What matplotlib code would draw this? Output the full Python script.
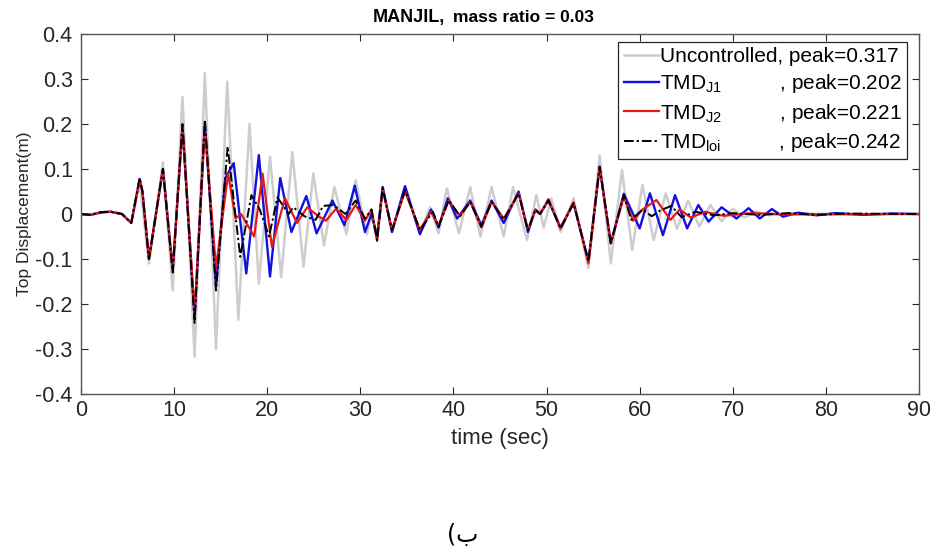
import matplotlib
matplotlib.use('Agg')
import matplotlib.pyplot as plt
from matplotlib import font_manager

# time (s) / top displacement (m)
t_unc = [0, 1.0, 2.2, 3.2, 4.4, 5.4, 6.3, 7.3, 8.8, 9.85, 10.9, 12.2, 13.3, 14.5, 15.7,
         16.9, 18.1, 19.1, 20.3, 21.5, 22.7, 23.9, 24.95, 26.1, 27.2, 28.5, 29.5, 30.7,
         31.2, 31.8, 32.4, 33.4, 34.8, 36.4, 37.5, 38.4, 39.3, 40.6, 41.8, 42.9, 44.1,
         45.4, 46.4, 47.9, 48.9, 49.7, 50.5, 51.5, 52.9, 54.5, 55.7, 56.9, 58.1, 59.2,
         60.3, 61.5, 62.8, 64.0, 65.2, 66.4, 67.6, 68.8, 70.0, 71.2, 72.5, 74.0, 76.0,
         80.0, 90.0]
d_unc = [0, -0.002, 0.004, 0.005, 0.0, -0.02, 0.07, -0.11, 0.115, -0.17, 0.26, -0.317,
         0.313, -0.30, 0.294, -0.235, 0.20, -0.155, 0.127, -0.14, 0.138, -0.117, 0.09,
         -0.07, 0.06, -0.045, 0.075, -0.045, 0.0, -0.055, 0.06, -0.04, 0.06, -0.042,
         0.015, -0.043, 0.057, -0.043, 0.06, -0.05, 0.06, -0.05, 0.06, -0.058, 0.042,
         -0.03, 0.035, -0.04, 0.035, -0.12, 0.13, -0.11, 0.098, -0.08, 0.065, -0.058,
         0.046, -0.033, 0.03, -0.028, 0.02, -0.016, 0.012, -0.008, 0.005, -0.003, 0.002,
         0.0, 0.0]

t_j1 = [0, 1.0, 2.2, 3.2, 4.4, 5.4, 6.3, 6.6, 7.3, 8.8, 9.85, 10.9, 12.2, 13.3, 14.5,
        15.5, 16.4, 17.75, 19.1, 20.3, 21.4, 22.6, 24.2, 25.3, 27.0, 28.3, 29.4, 30.5,
        31.2, 31.8, 32.4, 33.4, 34.8, 36.4, 37.6, 38.4, 39.4, 40.4, 41.8, 43.0, 44.1,
        45.4, 47.0, 48.0, 48.8, 49.3, 50.2, 51.5, 52.9, 54.5, 55.7, 56.9, 58.3, 60.0,
        61.1, 62.5, 63.8, 65.1, 66.3, 67.4, 68.8, 70.4, 71.7, 72.9, 74.2, 75.4, 77.0,
        79.0, 81.0, 84.0, 87.0, 90.0]
d_j1 = [0, -0.002, 0.004, 0.005, 0.0, -0.02, 0.078, 0.05, -0.1, 0.1, -0.125, 0.195,
        -0.23, 0.202, -0.16, 0.08, 0.113, -0.132, 0.131, -0.139, 0.08, -0.04, 0.04,
        -0.043, 0.03, -0.025, 0.063, -0.04, 0.0, -0.05, 0.06, -0.04, 0.062, -0.045,
        0.01, -0.03, 0.035, -0.01, 0.03, -0.025, 0.03, -0.02, 0.05, -0.04, 0.01, 0.0,
        0.03, -0.03, 0.024, -0.105, 0.105, -0.065, 0.045, -0.032, 0.046, -0.047, 0.042,
        -0.032, 0.02, -0.017, 0.015, -0.01, 0.013, -0.01, 0.011, -0.006, 0.003, -0.003,
        0.002, -0.002, 0.001, 0.0]

t_j2 = [0, 1.0, 2.2, 3.2, 4.4, 5.4, 6.3, 6.6, 7.3, 8.8, 9.85, 10.9, 12.2, 13.3, 14.5,
        15.8, 16.6, 17.2, 18.6, 19.5, 20.5, 21.9, 23.2, 24.3, 25.5, 26.3, 27.4, 28.5,
        29.5, 30.5, 31.2, 31.8, 32.4, 33.4, 34.8, 36.4, 37.6, 38.4, 39.5, 40.7, 41.8,
        43.0, 44.1, 45.4, 47.0, 48.0, 48.8, 49.3, 50.2, 51.5, 52.9, 54.5, 55.7, 56.9,
        58.3, 59.3, 60.3, 61.8, 63.3, 64.3, 65.5, 67.0, 69.0, 72.0, 76.0, 90.0]
d_j2 = [0, -0.002, 0.004, 0.005, 0.0, -0.02, 0.075, 0.05, -0.1, 0.1, -0.125, 0.195,
        -0.221, 0.19, -0.12, 0.09, -0.01, 0.0, -0.05, 0.09, -0.073, 0.035, -0.02, 0.015,
        -0.005, -0.015, 0.012, -0.013, 0.02, -0.015, 0.01, -0.06, 0.055, -0.035, 0.05,
        -0.035, 0.005, -0.025, 0.03, -0.005, 0.027, -0.03, 0.027, -0.01, 0.045, -0.035,
        0.008, 0.0, 0.033, -0.033, 0.026, -0.11, 0.105, -0.065, 0.038, -0.015, 0.01,
        0.031, -0.013, 0.01, -0.008, 0.005, -0.004, 0.002, -0.001, 0.0]

t_loi = [0, 1.0, 2.2, 3.2, 4.4, 5.4, 6.3, 6.6, 7.3, 8.8, 9.85, 10.9, 12.2, 13.3, 14.5,
         15.75, 17.1, 18.3, 19.2, 20.2, 21.1, 22.3, 22.8, 24.0, 25.2, 26.0, 27.1, 28.4,
         29.5, 30.5, 31.2, 31.8, 32.4, 33.4, 34.8, 36.4, 37.8, 38.4, 39.5, 40.7, 41.8,
         43.0, 44.1, 45.4, 47.0, 48.0, 48.8, 49.3, 50.2, 51.5, 52.9, 54.5, 55.7, 56.9,
         58.3, 59.1, 60.3, 61.3, 62.2, 63.4, 64.5, 66.0, 68.0, 70.0, 73.0, 76.0, 79.0,
         82.0, 90.0]
d_loi = [0, -0.002, 0.004, 0.005, 0.0, -0.02, 0.08, 0.05, -0.1, 0.1, -0.13, 0.2, -0.242,
         0.21, -0.17, 0.15, -0.095, 0.042, 0.01, -0.05, 0.037, 0.0, 0.015, -0.005,
         -0.013, 0.018, 0.02, 0.0, 0.03, -0.01, 0.01, -0.058, 0.057, -0.036, 0.053,
         -0.036, 0.005, -0.028, 0.031, -0.005, 0.027, -0.028, 0.027, -0.012, 0.046,
         -0.036, 0.01, 0.0, 0.031, -0.032, 0.024, -0.105, 0.105, -0.065, 0.042, -0.013,
         0.01, -0.005, 0.008, 0.018, -0.007, 0.005, -0.003, 0.002, -0.002, 0.002, -0.002,
         0.001, 0.0]

labels = ['Uncontrolled, peak=0.317',
          r'TMD$_{\mathrm{J1}}$          , peak=0.202',
          r'TMD$_{\mathrm{J2}}$          , peak=0.221',
          r'TMD$_{\mathrm{loi}}$          , peak=0.242']

xticks = [0, 10, 20, 30, 40, 50, 60, 70, 80, 90]
yticks = [-0.4, -0.3, -0.2, -0.1, 0, 0.1, 0.2, 0.3, 0.4]
ytick_labels = ['-0.4', '-0.3', '-0.2', '-0.1', '0', '0.1', '0.2', '0.3', '0.4']

names = {f.name for f in font_manager.fontManager.ttflist}
base_font = 'Liberation Sans' if 'Liberation Sans' in names else 'DejaVu Sans'
plt.rcParams['font.family'] = [base_font, 'DejaVu Sans']
plt.rcParams['mathtext.fontset'] = 'custom'
plt.rcParams['mathtext.rm'] = base_font

fig = plt.figure(figsize=(9.33, 5.52), dpi=100)
ax = fig.add_axes([0.0868, 0.2862, 0.8982, 0.6522])

ax.plot(t_unc, d_unc, color='#cdcdcd', lw=1.8, label=labels[0])
ax.plot(t_j1, d_j1, color='#1010e0', lw=1.7, label=labels[1])
ax.plot(t_j2, d_j2, color='#e81818', lw=1.6, label=labels[2])
ax.plot(t_loi, d_loi, color='black', lw=1.4, ls=(0, (5, 1.5, 1.2, 1.5)), label=labels[3])

ax.set_xlim(0, 90)
ax.set_ylim(-0.4, 0.4)
ax.set_xticks(xticks)
ax.set_yticks(yticks)
ax.set_yticklabels(ytick_labels)
ax.tick_params(direction='in', top=True, right=True, length=5, width=0.8,
               colors='#262626', labelsize=15.5, labelcolor='#262626')
ax.tick_params(axis='y', pad=6)
ax.tick_params(axis='x', pad=4)
for s in ax.spines.values():
    s.set_color('#555555')
    s.set_linewidth(1.0)

ax.set_xlabel('time (sec)', fontsize=16, color='#262626', labelpad=5)
ax.set_ylabel('Top Displacement(m)', fontsize=12.5, color='#262626', labelpad=2)

fig.text(445 / 933, 1 - 22 / 552, 'MANJIL,', ha='right', va='baseline',
         fontsize=13, fontweight='bold')
fig.text(453 / 933, 1 - 22 / 552, 'mass ratio = 0.03', ha='left', va='baseline',
         fontsize=12.5, fontweight='bold')

leg = ax.legend(loc='upper right', bbox_to_anchor=(0.9857, 0.9778), fontsize=15,
                handlelength=1.7, handletextpad=0.05, borderpad=0.25, labelspacing=0.3,
                borderaxespad=0, fancybox=False, framealpha=1, edgecolor='#262626')
leg.get_frame().set_linewidth(0.9)

fig.text(463 / 933, 1 - 535 / 552, '(ب', ha='center', va='center', fontsize=17,
         family=['DejaVu Sans'])

fig.savefig('out.png', dpi=100)
